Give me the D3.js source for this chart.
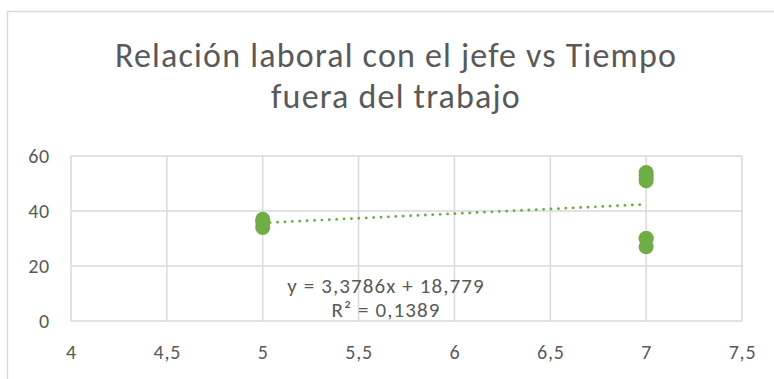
<!DOCTYPE html>
<html>
<head>
<meta charset="utf-8">
<script src="https://cdn.jsdelivr.net/npm/d3@7"></script>
<style>
  html, body { margin: 0; padding: 0; background: #fff; }
  svg { display: block; }
  text { font-family: Carlito, Calibri, Lato, sans-serif; fill: #595959; }
</style>
</head>
<body>
<svg id="chart" width="774" height="379"></svg>
<script>
// Observations: x = relación laboral con el jefe, y = tiempo fuera del trabajo
const xValues = [5, 5, 5, 7, 7, 7, 7, 7, 7, 7];
const yValues = [37, 36, 34, 54, 53, 52, 51, 30, 30, 27];

// Linear trendline as reported by the spreadsheet
const trendSlope = [3.3786];
const trendIntercept = [18.779];
const trendLabels = ["y = 3,3786x + 18,779", "R² = 0,1389"];

// Axis ticks and labels
const xTicks = [4, 4.5, 5, 5.5, 6, 6.5, 7, 7.5];
const yTicks = [0, 20, 40, 60];
const titleLines = ["Relación laboral con el jefe vs Tiempo", "fuera del trabajo"];

const green = "#70AD47";
const grid = "#D9D9D9";
const fmt = v => String(v).replace(".", ",");

const svg = d3.select("#chart");

// Chart area frame
svg.append("rect")
  .attr("x", 7.5).attr("y", 11.5)
  .attr("width", 820).attr("height", 420)
  .attr("fill", "#fff")
  .attr("stroke", grid).attr("stroke-width", 1.5);

const x = d3.scaleLinear().domain([4, 7.5]).range([71, 742]);
const y = d3.scaleLinear().domain([0, 60]).range([321, 156]);

// Title
svg.append("text")
  .attr("text-anchor", "middle")
  .style("font-size", "34px")
  .style("font-weight", "300")
  .style("letter-spacing", "1.2px")
  .selectAll("tspan").data(titleLines).join("tspan")
  .attr("x", 396)
  .attr("y", (d, i) => 67 + i * 41)
  .text(d => d);

// Gridlines
svg.append("g").selectAll("line").data(yTicks).join("line")
  .attr("x1", x(4)).attr("x2", x(7.5))
  .attr("y1", d => y(d)).attr("y2", d => y(d))
  .attr("stroke", grid).attr("stroke-width", 1.5);
svg.append("g").selectAll("line").data(xTicks).join("line")
  .attr("x1", d => x(d)).attr("x2", d => x(d))
  .attr("y1", y(0)).attr("y2", y(60))
  .attr("stroke", grid).attr("stroke-width", 1.5);

// Axis labels via d3 axes (domain and tick marks hidden)
const yAxis = svg.append("g")
  .attr("transform", `translate(${x(4)},0)`)
  .call(d3.axisLeft(y).tickValues(yTicks).tickSize(0).tickPadding(21));
const xAxis = svg.append("g")
  .attr("transform", `translate(0,${y(0)})`)
  .call(d3.axisBottom(x).tickValues(xTicks).tickFormat(fmt).tickSize(0).tickPadding(24));
[yAxis, xAxis].forEach(g => {
  g.select(".domain").remove();
  g.selectAll("text")
    .style("font-size", "20px")
    .style("letter-spacing", "0.8px")
    .style("font-family", "Carlito, Calibri, Lato, sans-serif")
    .attr("fill", "#595959");
});

// Trendline over the data's x range
const xExt = d3.extent(xValues);
const trend = xExt.map(v => [v, trendIntercept[0] + trendSlope[0] * v]);
svg.append("path")
  .datum(trend)
  .attr("d", d3.line().x(d => x(d[0])).y(d => y(d[1])))
  .attr("fill", "none")
  .attr("stroke", green)
  .attr("stroke-width", 2.8)
  .attr("stroke-linecap", "round")
  .attr("stroke-dasharray", "0.1 7.3");

// Points
svg.append("g").selectAll("circle").data(xValues.map((v, i) => [v, yValues[i]])).join("circle")
  .attr("cx", d => x(d[0])).attr("cy", d => y(d[1]))
  .attr("r", 7.5)
  .attr("fill", green);

// Trendline equation
svg.append("text")
  .attr("text-anchor", "middle")
  .style("font-size", "21px")
  .style("letter-spacing", "1.1px")
  .selectAll("tspan").data(trendLabels).join("tspan")
  .attr("x", 386)
  .attr("y", (d, i) => 293 + i * 24)
  .text(d => d);
</script>
</body>
</html>
